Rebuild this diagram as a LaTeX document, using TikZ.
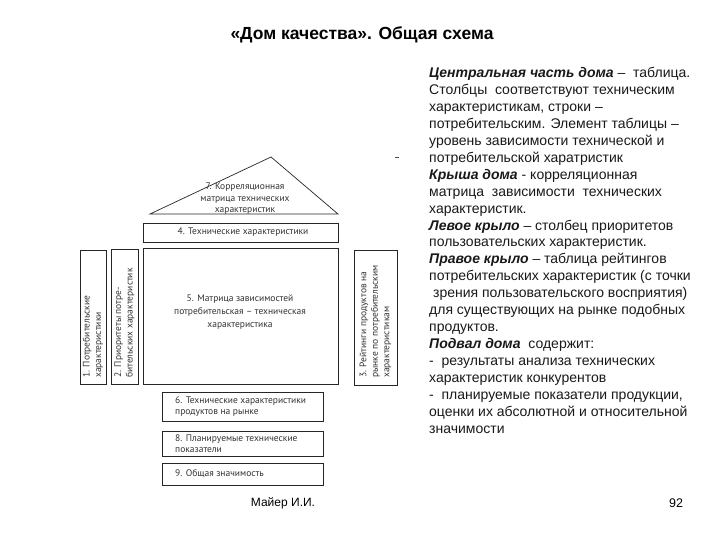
\documentclass[tikz,border=0pt]{standalone}
\usepackage{fontspec}
\setmainfont{Liberation Sans}
\newfontfamily\lblfont{PT Sans}
\begin{document}
\begin{tikzpicture}[x=1pt,y=-1pt,
  box/.style={draw=black!85,line width=0.9pt},
  lbl/.style={font=\lblfont\fontsize{9.5}{11.5}\selectfont,text=black!80,inner sep=0pt}]
\useasboundingbox[fill=white] (0,0) rectangle (720,540);
% title
\node[font=\bfseries\fontsize{17.5}{20}\selectfont] (title) at (362,35) {«Дом качества». Общая схема};
% roof
\draw[box,line width=0.7pt] (150,214) -- (271,157) -- (338,214) -- cycle;
\node[lbl,align=center] (roof) at (245,199) {7. Корреляционная\\матрица технических\\характеристик};
\coordinate (d1) at (395,157); \coordinate (d2) at (399,157);
\draw[black!70,line width=0.6pt] (d1) -- (d2);
% box 4
\draw[box] (143,223) rectangle (338,242);
\node[lbl] (b4) at (243,232.5) {4. Технические характеристики};
% box 5
\draw[box] (143,248) rectangle (338,384);
\node[lbl,align=center,font=\lblfont\fontsize{9.5}{13}\selectfont] (b5) at (240,312) {5. Матрица зависимостей\\потребительская – техническая\\характеристика};
% left wing
\draw[box] (80,250) rectangle (106,384);
\node[lbl,rotate=90,anchor=west,align=left] (c1) at (93,378) {1. Потребительские\\характеристики};
\draw[box] (111,249) rectangle (138,384);
\node[lbl,rotate=90,anchor=west,align=left] (c2) at (124.5,378) {2. Приоритеты потре-\\бительских характеристик};
% right wing
\draw[box] (354,250) rectangle (397,385);
\node[lbl,rotate=90,anchor=west,align=left] (c3) at (375.5,378) {3. Рейтинги продуктов на\\рынке по потребительским\\характеристикам};
% basement
\draw[box] (162,392) rectangle (323,421);
\node[lbl,anchor=west,align=left] (b6) at (175,406.5) {6. Технические характеристики\\продуктов на рынке};
\draw[box] (162,431) rectangle (323,456);
\node[lbl,anchor=west,align=left] (b8) at (175,443.5) {8. Планируемые технические\\показатели};
\draw[box] (162,463) rectangle (323,485);
\node[lbl,anchor=west] (b9) at (175,474) {9. Общая значимость};
% right text
\node[anchor=north west,align=left,inner sep=0pt,text=black!90,font=\fontsize{14}{16.95}\selectfont] (txt) at (429,67) {%
\textbf{\textit{Центральная часть дома}} –\ \ таблица.\\
Столбцы\ \ соответствуют техническим\\
характеристикам, строки –\\
потребительским. Элемент таблицы –\\
уровень зависимости технической и\\
потребительской харатристик\\
\textbf{\textit{Крыша дома}} - корреляционная\\
матрица\ \ зависимости\ \ технических\\
характеристик.\\
\textbf{\textit{Левое крыло}} – столбец приоритетов\\
пользовательских характеристик.\\
\textbf{\textit{Правое крыло}} – таблица рейтингов\\
потребительских характеристик (с точки\\
\ зрения пользовательского восприятия)\\
для существующих на рынке подобных\\
продуктов.\\
\textbf{\textit{Подвал дома}}\ \ содержит:\\
-\ \ результаты анализа технических\\
характеристик конкурентов\\
-\ \ планируемые показатели продукции,\\
оценки их абсолютной и относительной\\
значимости};
% footer
\node[font=\fontsize{12}{15}\selectfont] (auth) at (283,503) {Майер И.И.};
\node[font=\fontsize{12.5}{15}\selectfont] (num) at (676,503) {92};
\end{tikzpicture}
\end{document}
